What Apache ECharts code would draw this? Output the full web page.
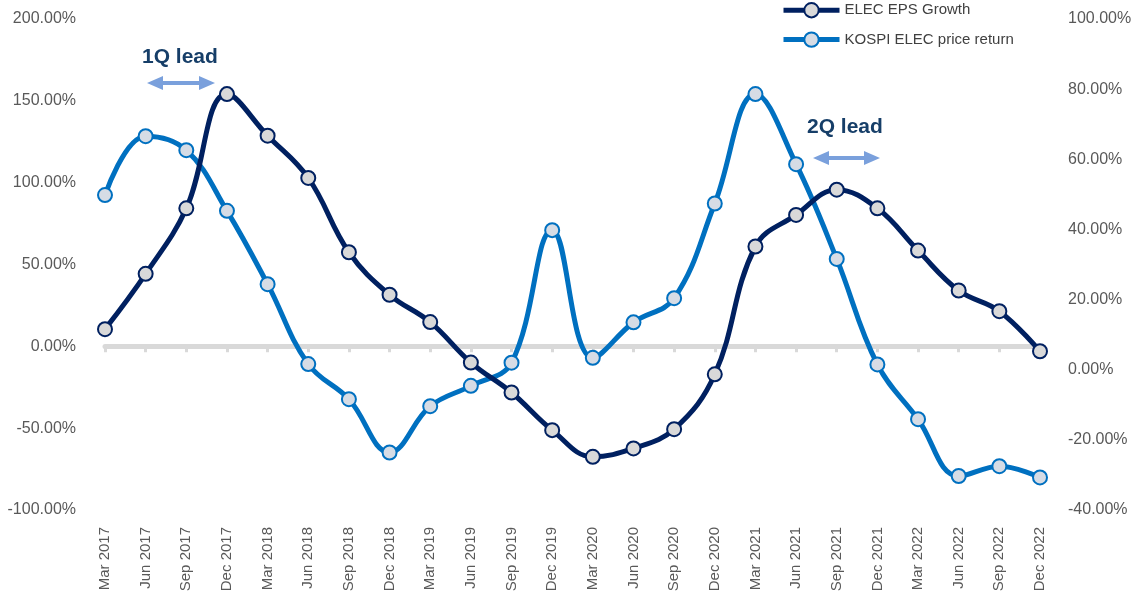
<!DOCTYPE html>
<html>
<head>
<meta charset="utf-8">
<title>ELEC EPS Growth vs KOSPI ELEC price return</title>
<script src="https://cdn.jsdelivr.net/npm/echarts@6/dist/echarts.min.js"></script>
<style>
  html, body { margin: 0; padding: 0; background: #ffffff; }
  #chart { width: 1135px; height: 596px; }
</style>
</head>
<body>
<div id="chart"></div>
<script>
// Quarterly periods
const quarters = [
  'Mar 2017', 'Jun 2017', 'Sep 2017', 'Dec 2017',
  'Mar 2018', 'Jun 2018', 'Sep 2018', 'Dec 2018',
  'Mar 2019', 'Jun 2019', 'Sep 2019', 'Dec 2019',
  'Mar 2020', 'Jun 2020', 'Sep 2020', 'Dec 2020',
  'Mar 2021', 'Jun 2021', 'Sep 2021', 'Dec 2021',
  'Mar 2022', 'Jun 2022', 'Sep 2022', 'Dec 2022'
];

// EPS growth, % (left axis)
const epsGrowth = [
  10.5, 44.3, 84.3, 154.1,
  128.7, 102.9, 57.5, 31.5,
  14.8, -9.9, -28.2, -51.2,
  -67.5, -62.4, -50.6, -17.1,
  61.0, 80.3, 95.7, 84.3,
  58.5, 34.1, 21.5, -3.0
];

// KOSPI electronics price return, % (right axis)
const priceReturn = [
  49.8, 66.6, 62.6, 45.3,
  24.4, 1.6, -8.4, -23.6,
  -10.4, -4.6, 2.0, 39.8,
  3.4, 13.5, 20.4, 47.4,
  78.6, 58.6, 31.6, 1.5,
  -14.1, -30.3, -27.5, -30.7
];

// Axis ranges
const leftAxis = { min: -100, max: 200, step: 50 };
const rightAxis = { min: -40, max: 100, step: 20 };

const FONT = "'Liberation Sans', Arial, sans-serif";
const NAVY = '#002060';
const BLUE = '#0070c0';
const ARROW = '#7aa0dc';
const NOTE = '#163e68';

function doubleArrow(x1, x2, y) {
  const head = 16, half = 7, shaft = 2;
  return [
    [x1, y], [x1 + head, y - half], [x1 + head, y - shaft],
    [x2 - head, y - shaft], [x2 - head, y - half], [x2, y],
    [x2 - head, y + half], [x2 - head, y + shaft],
    [x1 + head, y + shaft], [x1 + head, y + half]
  ];
}

const pct = v => v.toFixed(2) + '%';

const chart = echarts.init(document.getElementById('chart'), null, { renderer: 'canvas' });

chart.setOption({
  backgroundColor: '#ffffff',
  animation: false,
  textStyle: { fontFamily: FONT },
  grid: { left: 105, right: 95, top: 19, bottom: 86 },
  legend: {
    orient: 'vertical',
    left: 781,
    top: 2,
    padding: 0,
    itemWidth: 56,
    itemHeight: 18,
    itemGap: 13,
    itemTextGap: 5,
    lineStyle: { width: 5 },
    itemStyle: { borderWidth: 2 },
    textStyle: { fontFamily: FONT, fontSize: 15, color: '#404040' },
    data: ['ELEC EPS Growth', 'KOSPI ELEC price return']
  },
  xAxis: [
    {
      type: 'category',
      data: quarters,
      boundaryGap: false,
      position: 'bottom',
      axisLine: { show: false, onZero: false },
      axisTick: { show: false },
      splitLine: { show: false },
      axisLabel: {
        rotate: 90,
        margin: 17,
        interval: 0,
        fontFamily: FONT,
        fontSize: 15,
        color: '#595959'
      }
    },
    {
      type: 'category',
      data: quarters,
      boundaryGap: false,
      position: 'top',
      axisLine: {
        show: true,
        onZero: true,
        onZeroAxisIndex: 0,
        lineStyle: { color: '#d9d9d9', width: 5 }
      },
      axisTick: {
        show: true,
        inside: true,
        length: 6,
        interval: 0,
        lineStyle: { color: '#d9d9d9', width: 3 }
      },
      axisLabel: { show: false },
      splitLine: { show: false }
    }
  ],
  yAxis: [
    {
      type: 'value',
      position: 'left',
      min: leftAxis.min,
      max: leftAxis.max,
      interval: leftAxis.step,
      axisLine: { show: false },
      axisTick: { show: false },
      splitLine: { show: false },
      axisLabel: {
        margin: 29,
        fontFamily: FONT,
        fontSize: 16,
        color: '#595959',
        formatter: pct
      }
    },
    {
      type: 'value',
      position: 'right',
      min: rightAxis.min,
      max: rightAxis.max,
      interval: rightAxis.step,
      axisLine: { show: false },
      axisTick: { show: false },
      splitLine: { show: false },
      axisLabel: {
        margin: 28,
        fontFamily: FONT,
        fontSize: 16,
        color: '#595959',
        formatter: pct
      }
    }
  ],
  series: [
    {
      name: 'ELEC EPS Growth',
      type: 'line',
      xAxisIndex: 0,
      yAxisIndex: 0,
      data: epsGrowth,
      smooth: 0.4,
      symbol: 'circle',
      symbolSize: 14,
      z: 3,
      lineStyle: { color: NAVY, width: 5 },
      itemStyle: { color: '#d9d9d9', borderColor: NAVY, borderWidth: 2 }
    },
    {
      name: 'KOSPI ELEC price return',
      type: 'line',
      xAxisIndex: 0,
      yAxisIndex: 1,
      data: priceReturn,
      smooth: 0.4,
      symbol: 'circle',
      symbolSize: 14,
      z: 2,
      lineStyle: { color: BLUE, width: 5 },
      itemStyle: { color: '#d6dce5', borderColor: BLUE, borderWidth: 2 }
    }
  ],
  graphic: [
    {
      type: 'text',
      left: 142, top: 47,
      style: { text: '1Q lead', font: "bold 21px " + FONT, fill: NOTE }
    },
    {
      type: 'polygon',
      shape: { points: doubleArrow(147, 215, 83) },
      style: { fill: ARROW }
    },
    {
      type: 'text',
      left: 807, top: 117,
      style: { text: '2Q lead', font: "bold 21px " + FONT, fill: NOTE }
    },
    {
      type: 'polygon',
      shape: { points: doubleArrow(813, 880, 158) },
      style: { fill: ARROW }
    }
  ]
});
</script>
</body>
</html>
